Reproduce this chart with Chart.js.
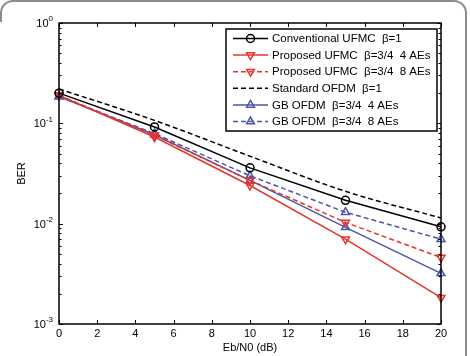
<!DOCTYPE html>
<html>
<head>
<meta charset="utf-8">
<script src="https://cdn.jsdelivr.net/npm/chart.js@4.4.0/dist/chart.umd.min.js"></script>
<style>
  html, body { margin: 0; padding: 0; background: #fff; }
  #wrap { width: 470px; height: 356px; position: relative; }
</style>
</head>
<body>
<div id="wrap"><canvas id="berChart" width="470" height="356"></canvas></div>
<script>
// Eb/N0 points (dB)
var snr = [0, 5, 10, 15, 20];
var xTicks = [0, 2, 4, 6, 8, 10, 12, 14, 16, 18, 20];
var yDecades = [0, -1, -2, -3];

// BER
var convUfmc = [0.20, 0.092, 0.036, 0.0171, 0.0093];
var propUfmc4 = [0.19, 0.073, 0.024, 0.0070, 0.00183];
var propUfmc8 = [0.19, 0.076, 0.027, 0.0103, 0.0046];
var stdOfdm = [0.22, 0.107, 0.047, 0.021, 0.0114];
var gbOfdm4 = [0.185, 0.077, 0.027, 0.0092, 0.0032];
var gbOfdm8 = [0.185, 0.079, 0.030, 0.013, 0.0070];

var labels = [
  'Conventional UFMC  \u03b2=1',
  'Proposed UFMC  \u03b2=3/4  4 AEs',
  'Proposed UFMC  \u03b2=3/4  8 AEs',
  'Standard OFDM  \u03b2=1',
  'GB OFDM  \u03b2=3/4  4 AEs',
  'GB OFDM  \u03b2=3/4  8 AEs'
];

var RED = '#e5352b', BLUE = '#4a56aa', FONT = '"Liberation Sans", Arial, sans-serif';

function pts(ys) {
  return snr.map(function(x, i) { return {x: x, y: ys[i]}; });
}
function ds(label, ys, color, dash, style, rot) {
  var r = style === 'circle' ? 4 : (style ? 4.5 : 0);
  return {
    label: label, data: pts(ys), borderColor: color, backgroundColor: 'rgba(0,0,0,0)',
    borderWidth: 1.5, borderDash: dash, pointStyle: style, pointRotation: rot || 0,
    pointRadius: r, pointBorderWidth: 1.5, pointBorderColor: color,
    pointBackgroundColor: 'rgba(0,0,0,0)', tension: 0, clip: false
  };
}

var frameAndAxes = {
  id: 'frameAndAxes',
  beforeDraw: function(chart) {
    var c = chart.ctx;
    c.save();
    c.strokeStyle = '#8c8c8c';
    c.lineWidth = 2;
    c.beginPath();
    c.moveTo(1, 22);
    c.arcTo(1, 1, 14, 1, 12);
    c.lineTo(453, 1);
    c.arcTo(466, 1, 466, 14, 12);
    c.lineTo(466, 356);
    c.stroke();
    c.restore();
  },
  afterDatasetsDraw: function(chart) {
    var c = chart.ctx, a = chart.chartArea;
    var xs = chart.scales.x, ys = chart.scales.y;
    c.save();
    c.strokeStyle = '#000';
    c.lineWidth = 1;
    c.beginPath();
    xTicks.forEach(function(t) {
      var px = Math.round(xs.getPixelForValue(t)) + 0.5;
      c.moveTo(px, a.bottom); c.lineTo(px, a.bottom - 4);
      c.moveTo(px, a.top); c.lineTo(px, a.top + 4);
    });
    yDecades.forEach(function(d) {
      var py = Math.round(ys.getPixelForValue(Math.pow(10, d))) + 0.5;
      c.moveTo(a.left, py); c.lineTo(a.left + 4, py);
      c.moveTo(a.right, py); c.lineTo(a.right - 4, py);
    });
    for (var d = -3; d < 0; d++) {
      for (var m = 2; m <= 9; m++) {
        var py = Math.round(ys.getPixelForValue(m * Math.pow(10, d))) + 0.5;
        c.moveTo(a.left, py); c.lineTo(a.left + 2.5, py);
        c.moveTo(a.right, py); c.lineTo(a.right - 2.5, py);
      }
    }
    c.stroke();
    c.lineWidth = 1.5;
    c.strokeRect(a.left, a.top, a.right - a.left, a.bottom - a.top);

    // y tick labels with superscript exponents
    c.fillStyle = '#000';
    c.textBaseline = 'middle';
    yDecades.forEach(function(d) {
      var py = ys.getPixelForValue(Math.pow(10, d));
      var ex = String(d);
      c.font = '8px ' + FONT;
      var ew = c.measureText(ex).width;
      c.textAlign = 'right';
      c.fillText(ex, a.left - 6, py - 4);
      c.font = '11px ' + FONT;
      c.fillText('10', a.left - 6 - ew, py + 1);
    });

    // legend box
    var lx = 226, ly = 29, lw = 211, lh = 102, rh = 16.6;
    c.fillStyle = '#fff';
    c.fillRect(lx, ly, lw, lh);
    c.lineWidth = 1.5;
    c.strokeStyle = '#000';
    c.strokeRect(lx, ly, lw, lh);
    chart.data.datasets.forEach(function(s, i) {
      var cy = ly + 9.5 + i * rh;
      c.strokeStyle = s.borderColor;
      c.lineWidth = 1.5;
      c.setLineDash(s.borderDash || []);
      c.beginPath();
      c.moveTo(233, cy); c.lineTo(268, cy);
      c.stroke();
      c.setLineDash([]);
      if (s.pointStyle) {
        c.fillStyle = 'rgba(0,0,0,0)';
        c.strokeStyle = s.borderColor;
        Chart.helpers.drawPoint(c, {
          pointStyle: s.pointStyle, rotation: s.pointRotation, radius: s.pointRadius, borderWidth: 1.5
        }, 250.5, cy);
      }
      c.fillStyle = '#000';
      c.font = '11.5px ' + FONT;
      c.textAlign = 'left';
      c.fillText(s.label, 272, cy + 0.5);
    });
    c.restore();
  }
};

var sets = [
  ds(labels[0], convUfmc, '#000', [], 'circle'),
  ds(labels[1], propUfmc4, RED, [], 'triangle', 180),
  ds(labels[2], propUfmc8, RED, [5, 3], 'triangle', 180),
  ds(labels[3], stdOfdm, '#000', [5, 3], false),
  ds(labels[4], gbOfdm4, BLUE, [], 'triangle'),
  ds(labels[5], gbOfdm8, BLUE, [5, 3], 'triangle')
];
sets[3].cubicInterpolationMode = 'monotone';

new Chart(document.getElementById('berChart'), {
  type: 'line',
  data: { datasets: sets },
  plugins: [frameAndAxes],
  options: {
    responsive: false,
    animation: false,
    layout: { padding: { left: 0, right: 29, top: 23, bottom: 0 } },
    plugins: { legend: { display: false }, tooltip: { enabled: false } },
    scales: {
      x: {
        type: 'linear', min: 0, max: 20,
        grid: { display: false, drawTicks: false }, border: { display: false },
        ticks: { stepSize: 2, color: '#000', font: { family: FONT, size: 11 }, padding: 3, maxRotation: 0 },
        title: { display: true, text: 'Eb/N0 (dB)', color: '#000', font: { family: FONT, size: 11 }, padding: { top: 1, bottom: 1 } },
        afterFit: function(s) { s.height = 32; }
      },
      y: {
        type: 'logarithmic', min: 0.001, max: 1,
        grid: { display: false, drawTicks: false }, border: { display: false },
        ticks: { callback: function() { return ''; } },
        title: { display: true, text: 'BER', color: '#000', font: { family: FONT, size: 11 }, padding: { top: 15, bottom: 0 } },
        afterFit: function(s) { s.width = 59; }
      }
    }
  }
});
</script>
</body>
</html>
